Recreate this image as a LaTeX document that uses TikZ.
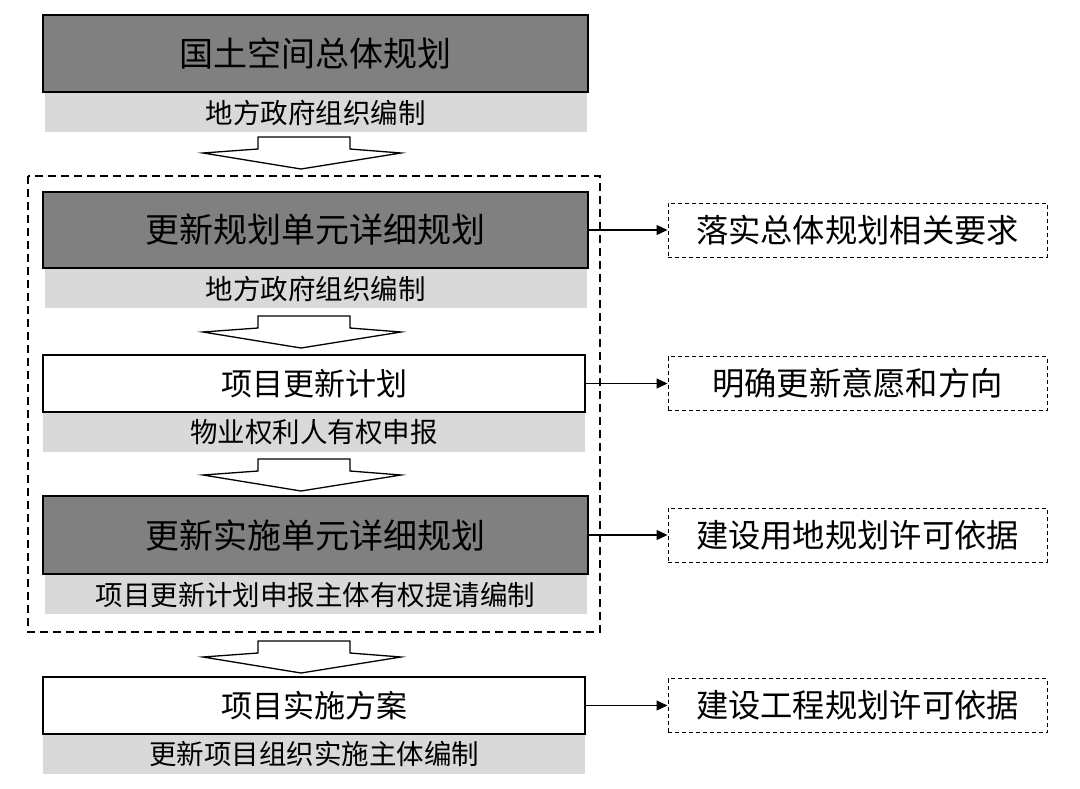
\documentclass[tikz,border=0pt]{standalone}
\usepackage{fontspec}
\setmainfont{Noto Sans CJK SC}
\usepackage{xcolor}
\usetikzlibrary{positioning,arrows.meta}
\definecolor{planfill}{RGB}{128,128,128}
\definecolor{barfill}{RGB}{217,217,217}

\begin{document}
\begin{tikzpicture}[x=1pt,y=-1pt,
    plan/.style={draw,line width=2pt,fill=planfill,minimum width=545pt,inner sep=0pt,font=\fontsize{34}{36}\selectfont},
    stage/.style={draw,line width=1.2pt,fill=white,minimum width=542pt,minimum height=57pt,inner sep=0pt,font=\fontsize{31}{34}\selectfont},
    maker/.style={fill=barfill,minimum width=542pt,minimum height=39pt,inner sep=0pt,font=\fontsize{27.5}{30}\selectfont},
    role/.style={draw,dash pattern=on 4pt off 3pt,line width=1pt,minimum width=379pt,minimum height=54pt,inner sep=0pt,font=\fontsize{32.3}{34}\selectfont},
    link/.style={-{Triangle[length=11pt,width=10pt]},line width=1.2pt},
    flow/.style={draw,line width=1.3pt,fill=white,line join=miter}]
    \useasboundingbox (0,0) rectangle (1080,788);

    % left column
    \node [plan,minimum height=77pt] (zt) at (315.5,53.5) {国土空间总体规划};
    \node [maker,below=0pt of zt] (zt-by) {地方政府组织编制};

    \node [plan,minimum height=76pt] (gx) at (315.5,230) {更新规划单元详细规划};
    \node [maker,below=0pt of gx] (gx-by) {地方政府组织编制};

    \node [stage] (jh) at (314,383.5) {项目更新计划};
    \node [maker,below=0pt of jh] (jh-by) {物业权利人有权申报};

    \node [plan,minimum height=78pt] (ss) at (315.5,535) {更新实施单元详细规划};
    \node [maker,below=0pt of ss] (ss-by) {项目更新计划申报主体有权提请编制};

    \node [stage] (fa) at (314,705.5) {项目实施方案};
    \node [maker,below=0pt of fa] (fa-by) {更新项目组织实施主体编制};

    % dashed frame round the unit plans
    \draw [line width=2pt,dash pattern=on 8pt off 5pt] (28,176) rectangle (600,632);

    % block arrows
    \foreach \t in {137,316,459,641}
      \draw [flow] (258,\t) -- (350,\t) -- (350,\t+12) -- (401,\t+16)
        -- (301,\t+32) -- (203,\t+16) -- (258,\t+12) -- cycle;

    % right column
    \node [role] (yq) at (857.5,230) {落实总体规划相关要求};
    \node [role] (yy) at (857.5,383.5) {明确更新意愿和方向};
    \node [role] (yd) at (857.5,535) {建设用地规划许可依据};
    \node [role] (gc) at (857.5,705.5) {建设工程规划许可依据};

    \draw [link] (gx) -- (yq);
    \draw [link] (jh) -- (yy);
    \draw [link] (ss) -- (yd);
    \draw [link] (fa) -- (gc);
\end{tikzpicture}
\end{document}
